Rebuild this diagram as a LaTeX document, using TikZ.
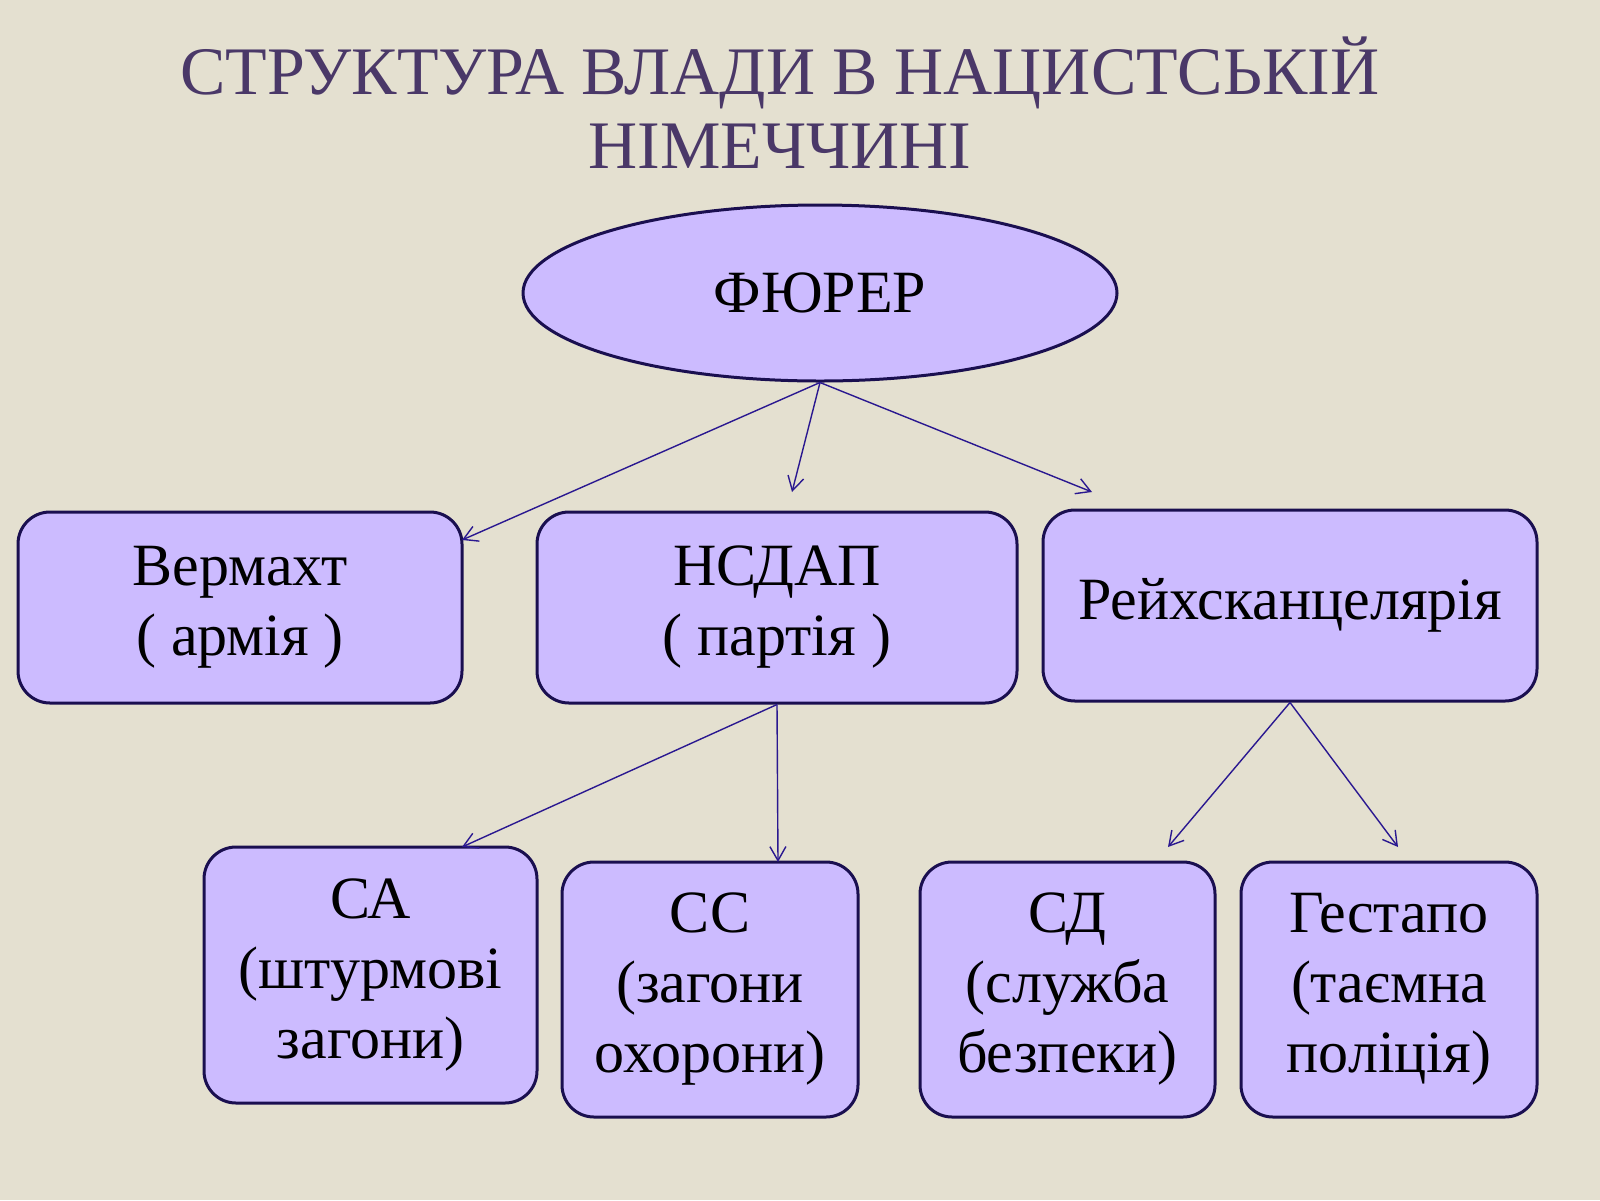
\documentclass[tikz,border=0pt]{standalone}
\usepackage{fontspec}
\setmainfont{Liberation Serif}
\usetikzlibrary{shapes.geometric,arrows.meta}
\definecolor{bg}{HTML}{E4E0D0}
\definecolor{boxfill}{HTML}{CCBBFF}
\definecolor{boxline}{HTML}{1A0F50}
\definecolor{titlec}{HTML}{4A3868}
\definecolor{arrc}{HTML}{2A1890}
\begin{document}
\begin{tikzpicture}[x=0.5pt,y=-0.5pt,
  box/.style={draw=boxline,fill=boxfill,line width=1.5pt,rounded corners=16pt,align=center,font=\fontsize{30}{35}\selectfont,inner sep=0pt},
  conn/.style={draw=arrc,line width=0.7pt,-{Straight Barb[length=7pt,width=8pt]}}]
\fill[bg] (0,0) rectangle (1600,1200);
\useasboundingbox (0,0) rectangle (1600,1200);
\node[text=titlec,font=\fontsize{34}{37}\selectfont,align=center] (title) at (780,103) {СТРУКТУРА ВЛАДИ В НАЦИСТСЬКІЙ\\НІМЕЧЧИНІ};
\node[ellipse,draw=boxline,fill=boxfill,line width=1.5pt,minimum width=297pt,minimum height=88pt,font=\fontsize{30}{35}\selectfont] (f) at (820,293) {ФЮРЕР};
\node[box,minimum width=222pt,minimum height=95.5pt] (w) at (240,607.5) {Вермахт\\( армія )};
\node[box,minimum width=240pt,minimum height=95.5pt] (n) at (777,607.5) {НСДАП\\( партія )};
\node[box,minimum width=247pt,minimum height=95.5pt] (r) at (1290,605.5) {Рейхсканцелярія};
\node[box,minimum width=166.5pt,minimum height=128pt] (sa) at (370.5,975) {СА\\(штурмові\\загони)};
\node[box,minimum width=148pt,minimum height=127.5pt] (ss) at (710,989.5) {СС\\(загони\\охорони)};
\node[box,minimum width=147.5pt,minimum height=127.5pt] (sd) at (1067.5,989.5) {СД\\(служба\\безпеки)};
\node[box,minimum width=148pt,minimum height=127.5pt] (g) at (1389,989.5) {Гестапо\\(таємна\\поліція)};
\coordinate (a1) at (462,540); \coordinate (a2) at (792,492); \coordinate (a3) at (1092,492);
\coordinate (b1) at (462,847); \coordinate (b2) at (778,862);
\coordinate (c1) at (1168,847); \coordinate (c2) at (1398,847);
\draw[conn] (f.south) -- (a1);
\draw[conn] (f.south) -- (a2);
\draw[conn] (f.south) -- (a3);
\draw[conn] (n.south) -- (b1);
\draw[conn] (n.south) -- (b2);
\draw[conn] (r.south) -- (c1);
\draw[conn] (r.south) -- (c2);
\end{tikzpicture}
\end{document}
